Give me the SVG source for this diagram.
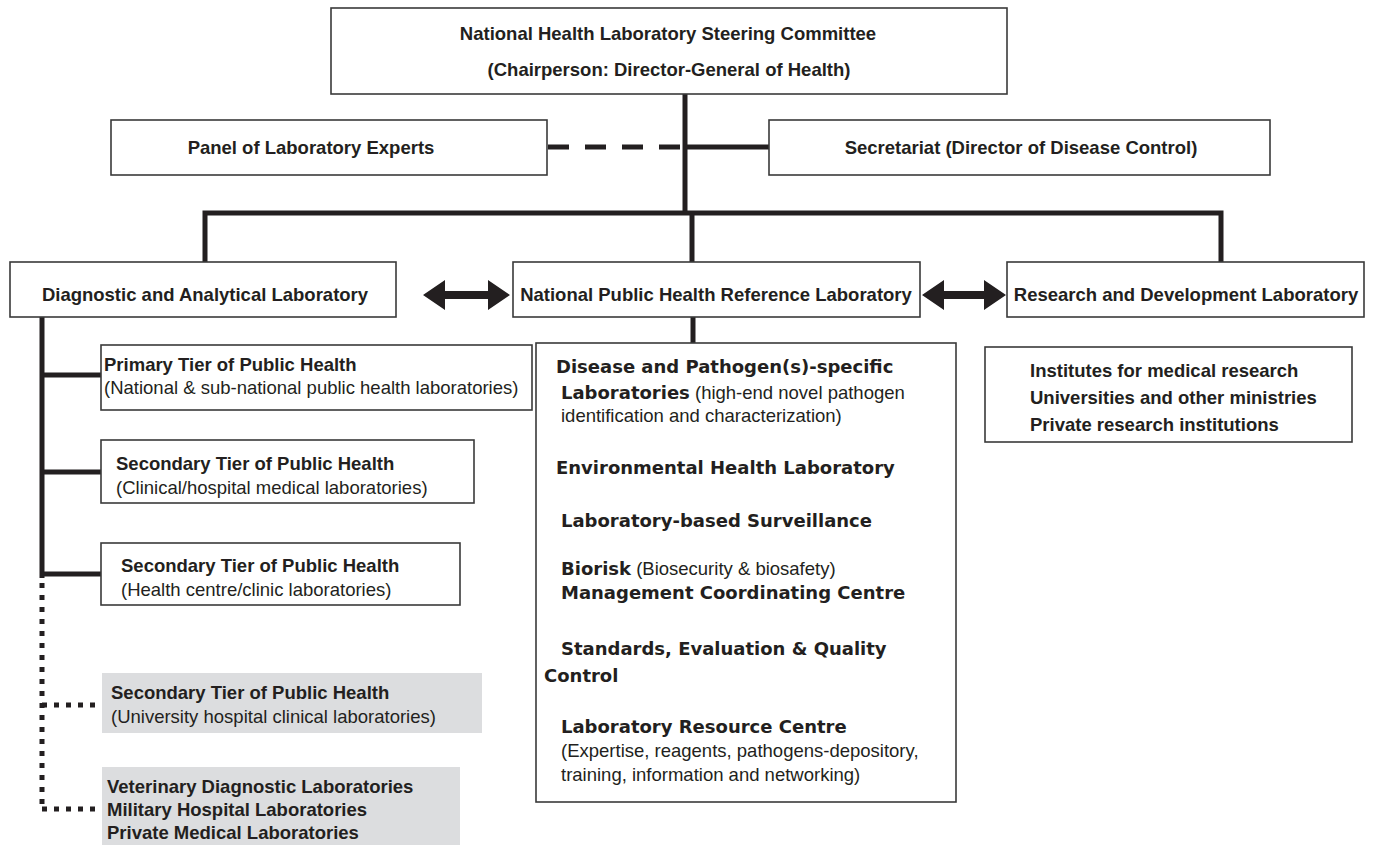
<svg xmlns="http://www.w3.org/2000/svg" width="1378" height="845" viewBox="0 0 1378 845">
<defs>
<style>
.box{fill:#fff;stroke:#3a3a3a;stroke-width:1.6}
.gbox{fill:#dcdddf;stroke:none}
.t{font-family:"Liberation Sans",Arial,sans-serif;font-size:18.5px;fill:#231f20}
.b{font-weight:bold}
.h{font-family:"DejaVu Sans",Verdana,sans-serif;font-weight:bold;font-size:18px;fill:#231f20}
.ln{stroke:#231f20;stroke-width:5;fill:none}
.dash{stroke:#231f20;stroke-width:5;fill:none;stroke-dasharray:21 16}
.dot{stroke:#231f20;stroke-width:5;fill:none;stroke-dasharray:5 7}
.arr{fill:#231f20}
</style>
</defs>
<rect width="1378" height="845" fill="#fff"/>
<g id="connectors">
<line class="ln" x1="685" y1="94" x2="685" y2="215"/>
<line class="ln" x1="685" y1="147" x2="769" y2="147"/>
<line class="dash" x1="548" y1="147" x2="685" y2="147"/>
<polyline class="ln" points="205,262 205,213 1221,213 1221,262"/>
<line class="ln" x1="692" y1="213" x2="692" y2="262"/>
<line class="ln" x1="693" y1="317" x2="693" y2="343"/>
<line class="ln" x1="42" y1="317" x2="42" y2="578"/>
<line class="ln" x1="42" y1="375" x2="101" y2="375"/>
<line class="ln" x1="42" y1="472" x2="101" y2="472"/>
<line class="ln" x1="42" y1="574" x2="101" y2="574"/>
<line class="dot" x1="42" y1="583" x2="42" y2="809"/>
<line class="dot" x1="42" y1="705" x2="99" y2="705"/>
<line class="dot" x1="42" y1="809" x2="99" y2="809"/>
<polygon class="arr" points="423,295 445,280 445,291 488,291 488,280 510,295 488,310 488,299 445,299 445,310"/>
<polygon class="arr" points="922,295 944,280 944,291 984,291 984,280 1006,295 984,310 984,299 944,299 944,310"/>
</g>
<g id="steering">
<rect class="box" x="331" y="8" width="676" height="86"/>
<text class="t b" x="668" y="40" text-anchor="middle">National Health Laboratory Steering Committee</text>
<text class="t b" x="669" y="76" text-anchor="middle">(Chairperson: Director-General of Health)</text>
</g>
<g id="panel">
<rect class="box" x="111" y="120" width="436" height="55"/>
<text class="t b" x="311" y="154" text-anchor="middle">Panel of Laboratory Experts</text>
</g>
<g id="secretariat">
<rect class="box" x="769" y="120" width="501" height="55"/>
<text class="t b" x="1021" y="154" text-anchor="middle">Secretariat (Director of Disease Control)</text>
</g>
<g id="diagnostic">
<rect class="box" x="10" y="262" width="386" height="55"/>
<text class="t b" x="205" y="301" text-anchor="middle">Diagnostic and Analytical Laboratory</text>
</g>
<g id="nphrl">
<rect class="box" x="513" y="262" width="407" height="55"/>
<text class="t b" x="716" y="301" text-anchor="middle">National Public Health Reference Laboratory</text>
</g>
<g id="rnd">
<rect class="box" x="1007" y="262" width="357" height="55"/>
<text class="t b" x="1186" y="301" text-anchor="middle">Research and Development Laboratory</text>
</g>
<g id="primary">
<rect class="box" x="101" y="345" width="431" height="65"/>
<text class="t b" x="104" y="371">Primary Tier of Public Health</text>
<text class="t" x="104" y="394">(National &amp; sub-national public health laboratories)</text>
</g>
<g id="secondary1">
<rect class="box" x="101" y="440" width="373" height="63"/>
<text class="t b" x="116" y="470">Secondary Tier of Public Health</text>
<text class="t" x="116" y="494">(Clinical/hospital medical laboratories)</text>
</g>
<g id="secondary2">
<rect class="box" x="101" y="543" width="359" height="62"/>
<text class="t b" x="121" y="572">Secondary Tier of Public Health</text>
<text class="t" x="121" y="596">(Health centre/clinic laboratories)</text>
</g>
<g id="university">
<rect class="gbox" x="102" y="673" width="380" height="60"/>
<text class="t b" x="111" y="699">Secondary Tier of Public Health</text>
<text class="t" x="111" y="723">(University hospital clinical laboratories)</text>
</g>
<g id="others">
<rect class="gbox" x="102" y="767" width="358" height="78"/>
<text class="t b" x="107" y="793">Veterinary Diagnostic Laboratories</text>
<text class="t b" x="107" y="816">Military Hospital Laboratories</text>
<text class="t b" x="107" y="839">Private Medical Laboratories</text>
</g>
<g id="reference-units">
<rect class="box" x="536" y="343" width="420" height="459"/>
<text class="h" x="556" y="373">Disease and Pathogen(s)-specific</text>
<text x="561" y="399"><tspan class="h">Laboratories</tspan><tspan class="t"> (high-end novel pathogen</tspan></text>
<text class="t" x="561" y="422">identification and characterization)</text>
<text class="h" x="556" y="474">Environmental Health Laboratory</text>
<text class="h" x="561" y="527">Laboratory-based Surveillance</text>
<text x="561" y="575"><tspan class="h">Biorisk</tspan><tspan class="t"> (Biosecurity &amp; biosafety)</tspan></text>
<text class="h" x="561" y="599">Management Coordinating Centre</text>
<text class="h" x="561" y="655">Standards, Evaluation &amp; Quality</text>
<text class="h" x="544" y="682">Control</text>
<text class="h" x="561" y="733">Laboratory Resource Centre</text>
<text class="t" x="561" y="757">(Expertise, reagents, pathogens-depository,</text>
<text class="t" x="561" y="781">training, information and networking)</text>
</g>
<g id="research-partners">
<rect class="box" x="985" y="347" width="367" height="95"/>
<text class="t b" x="1030" y="377">Institutes for medical research</text>
<text class="t b" x="1030" y="404">Universities and other ministries</text>
<text class="t b" x="1030" y="431">Private research institutions</text>
</g>
</svg>
